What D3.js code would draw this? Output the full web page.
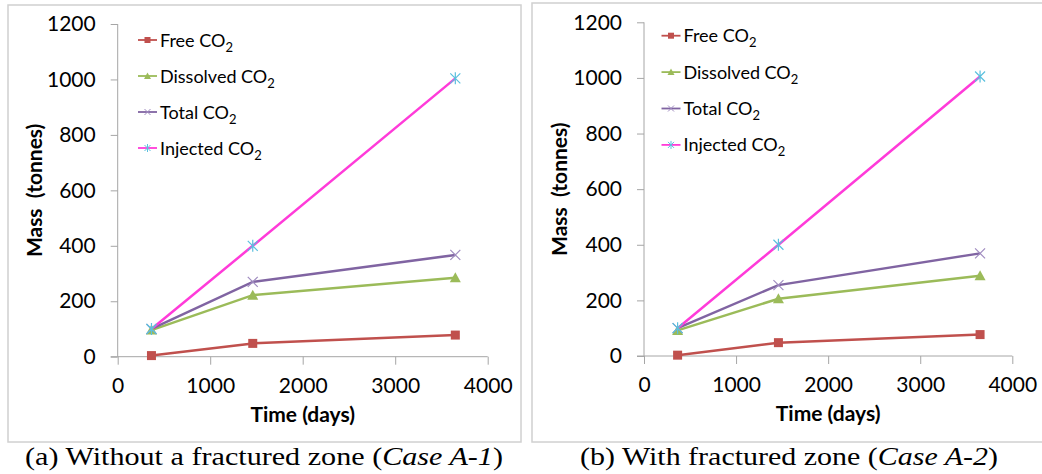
<!DOCTYPE html>
<html>
<head>
<meta charset="utf-8">
<script src="https://cdn.jsdelivr.net/npm/d3@7"></script>
<style>
  html, body { margin: 0; padding: 0; background: #fff; }
  svg { display: block; }
</style>
</head>
<body>
<svg id="chart" width="1042" height="474"></svg>
<script>
// ---- data ----
const days = [365, 1460, 3650];
const seriesNames = ["Free", "Dissolved", "Total", "Injected"];
// Case A-1 (without fractured zone)
const freeA1 = [4, 48, 78];
const dissolvedA1 = [96, 222, 285];
const totalA1 = [100, 270, 367];
const injectedA1 = [100, 400, 1004];
// Case A-2 (with fractured zone)
const freeA2 = [3, 48, 77];
const dissolvedA2 = [92, 206, 289];
const totalA2 = [100, 255, 369];
const injectedA2 = [100, 400, 1005];
const xTicks = [0, 1000, 2000, 3000, 4000];
const yTicks = [0, 200, 400, 600, 800, 1000, 1200];
const captionsMain = ["(a) Without a fractured zone (", "(b) With fractured zone ("];
const captionsCase = ["Case A-1", "Case A-2"];

const colors = {
  Free: "#C0504D", Dissolved: "#9BBB59", Total: "#8064A2", Injected: "#FF3BD9"
};
const markerColors = {
  Free: "#C0504D", Dissolved: "#9BBB59", Total: "#A08CC0", Injected: "#5BC0DE"
};

const svg = d3.select("#chart");
const tickFont = "Lato, 'Open Sans', sans-serif";

function drawMarker(g, type, x, y) {
  const c = markerColors[type];
  if (type === "Free") {
    g.append("rect").attr("x", x - 4.5).attr("y", y - 4.5).attr("width", 9).attr("height", 9).attr("fill", c);
  } else if (type === "Dissolved") {
    g.append("path").attr("d", `M${x},${y-5.5}L${x+5.5},${y+4.5}L${x-5.5},${y+4.5}Z`).attr("fill", c);
  } else if (type === "Total") {
    g.append("path").attr("d", `M${x-5},${y-5}L${x+5},${y+5}M${x-5},${y+5}L${x+5},${y-5}`)
      .attr("stroke", c).attr("stroke-width", 1.2);
  } else {
    g.append("path").attr("d", `M${x-5},${y-5}L${x+5},${y+5}M${x-5},${y+5}L${x+5},${y-5}M${x},${y-6}L${x},${y+6}`)
      .attr("stroke", c).attr("stroke-width", 1.2);
  }
}

function drawLegendMarker(g, type, x, y) {
  const c = markerColors[type];
  if (type === "Free") {
    g.append("rect").attr("x", x - 3).attr("y", y - 3).attr("width", 6).attr("height", 6).attr("fill", c);
  } else if (type === "Dissolved") {
    g.append("path").attr("d", `M${x},${y-3.5}L${x+3.5},${y+3}L${x-3.5},${y+3}Z`).attr("fill", c);
  } else if (type === "Total") {
    g.append("path").attr("d", `M${x-3},${y-3}L${x+3},${y+3}M${x-3},${y+3}L${x+3},${y-3}`)
      .attr("stroke", c).attr("stroke-width", 1);
  } else {
    g.append("path").attr("d", `M${x-3},${y-3}L${x+3},${y+3}M${x-3},${y+3}L${x+3},${y-3}M${x},${y-4}L${x},${y+4}`)
      .attr("stroke", c).attr("stroke-width", 1);
  }
}

function panel(cfg) {
  const g = svg.append("g");
  // frame
  g.append("rect").attr("x", cfg.frame[0]).attr("y", cfg.frame[1])
    .attr("width", cfg.frame[2]).attr("height", cfg.frame[3])
    .attr("fill", "none").attr("stroke", "#D0D0D0").attr("stroke-width", 1.5);

  const x = d3.scaleLinear().domain([0, 4000]).range([cfg.x0, cfg.x1]);
  const y = d3.scaleLinear().domain([0, 1200]).range([cfg.y0, cfg.y1]);

  // y axis
  const yAx = g.append("g").attr("transform", `translate(${cfg.x0},0)`)
    .call(d3.axisLeft(y).tickValues(yTicks).tickSize(7).tickPadding(15).tickFormat(d3.format("d")));
  yAx.select(".domain").attr("stroke", "#A6A6A6").attr("d", `M0,${cfg.y1}V${cfg.y0}`);
  yAx.selectAll(".tick line").attr("stroke", "#A6A6A6");
  yAx.selectAll("text").attr("font-family", tickFont).attr("font-size", 21).attr("fill", "#000");

  // x axis
  const xAx = g.append("g").attr("transform", `translate(0,${cfg.y0})`)
    .call(d3.axisBottom(x).tickValues(xTicks).tickSize(8).tickPadding(13).tickFormat(d3.format("d")));
  xAx.select(".domain").attr("stroke", "#A6A6A6").attr("d", `M${cfg.x0 - 7},0H${cfg.x1}`);
  xAx.selectAll(".tick line").attr("stroke", "#A6A6A6");
  xAx.selectAll("text").attr("font-family", tickFont).attr("font-size", 21).attr("fill", "#000");

  // axis titles
  g.append("text").attr("transform", `translate(${cfg.titleX},${(cfg.y0 + cfg.y1) / 2}) rotate(-90)`)
    .attr("text-anchor", "middle").attr("dy", "0.35em").attr("font-family", tickFont).attr("font-weight", "bold")
    .attr("font-size", 21).attr("xml:space", "preserve").text("Mass  (tonnes)");
  g.append("text").attr("x", (cfg.x0 + cfg.x1) / 2).attr("y", cfg.y0 + 65)
    .attr("text-anchor", "middle").attr("font-family", tickFont).attr("font-weight", "bold")
    .attr("font-size", 21).text("Time (days)");

  // lines
  const line = d3.line().x((d, i) => x(days[i])).y(d => y(d));
  const order = ["Free", "Dissolved", "Total", "Injected"];
  order.forEach(name => {
    const vals = cfg.data[name];
    g.append("path").attr("d", line(vals)).attr("fill", "none")
      .attr("stroke", colors[name]).attr("stroke-width", 2.5);
  });
  order.forEach(name => {
    cfg.data[name].forEach((v, i) => drawMarker(g, name, x(days[i]), y(v)));
  });

  // legend
  const labels = { Free: "Free CO", Dissolved: "Dissolved CO", Total: "Total CO", Injected: "Injected CO" };
  seriesNames.forEach((name, i) => {
    const ly = cfg.legY + i * cfg.legStep;
    g.append("line").attr("x1", cfg.legX).attr("x2", cfg.legX + 19).attr("y1", ly).attr("y2", ly)
      .attr("stroke", colors[name]).attr("stroke-width", 1.8);
    drawLegendMarker(g, name, cfg.legX + 9.5, ly);
    const t = g.append("text").attr("x", cfg.legX + 22).attr("y", ly + 6.5)
      .attr("font-family", tickFont).attr("font-size", 18).attr("fill", "#000");
    t.append("tspan").text(labels[name]);
    t.append("tspan").attr("dy", 5).attr("font-size", 13).text("2");
  });

  // caption
  const cap = svg.append("text").attr("x", cfg.capX).attr("y", 465)
    .attr("text-anchor", "middle").attr("font-family", "'Liberation Serif', 'DejaVu Serif', serif")
    .attr("font-size", 26).attr("fill", "#000")
    .attr("textLength", cfg.capLen).attr("lengthAdjust", "spacingAndGlyphs");
  cap.append("tspan").text(cfg.capMain);
  cap.append("tspan").attr("font-style", "italic").text(cfg.capCase);
  cap.append("tspan").text(")");
}

panel({
  frame: [8, 5, 513, 437],
  x0: 117.7, x1: 487.7, y0: 356.7, y1: 24, titleX: 35,
  legX: 138, legY: 40, legStep: 36,
  capX: 264, capLen: 478, capMain: captionsMain[0], capCase: captionsCase[0],
  data: { Free: freeA1, Dissolved: dissolvedA1, Total: totalA1, Injected: injectedA1 }
});
panel({
  frame: [532, 3, 520, 439],
  x0: 644, x1: 1012.3, y0: 356, y1: 22.3, titleX: 560,
  legX: 661.5, legY: 35.7, legStep: 36.4,
  capX: 789, capLen: 418, capMain: captionsMain[1], capCase: captionsCase[1],
  data: { Free: freeA2, Dissolved: dissolvedA2, Total: totalA2, Injected: injectedA2 }
});
</script>
</body>
</html>
